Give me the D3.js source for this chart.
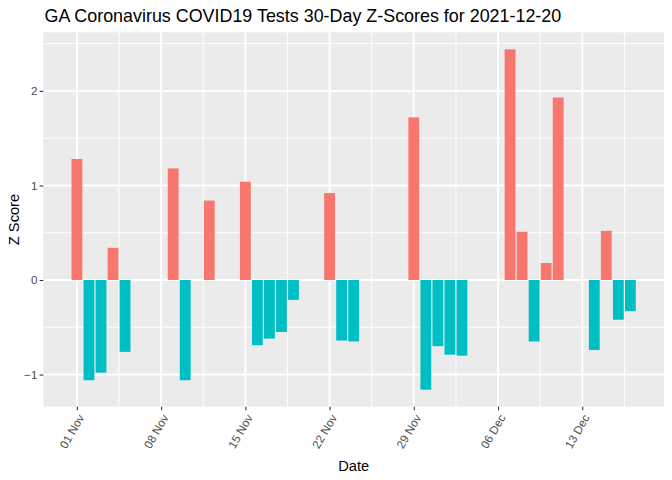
<!DOCTYPE html>
<html>
<head>
<meta charset="utf-8">
<script src="https://cdn.jsdelivr.net/npm/d3@7"></script>
<style>
  html, body { margin: 0; padding: 0; background: #ffffff; }
  svg { display: block; font-family: "Liberation Sans", Arial, sans-serif; }
</style>
</head>
<body>
<svg id="chart" width="672" height="480"></svg>
<script>
// ---- data ----
const dates = ["2021-11-01","2021-11-02","2021-11-03","2021-11-04","2021-11-05",
  "2021-11-09","2021-11-10","2021-11-12","2021-11-15","2021-11-16","2021-11-17",
  "2021-11-18","2021-11-19","2021-11-22","2021-11-23","2021-11-24","2021-11-29",
  "2021-11-30","2021-12-01","2021-12-02","2021-12-03","2021-12-07","2021-12-08",
  "2021-12-09","2021-12-10","2021-12-11","2021-12-14","2021-12-15","2021-12-16",
  "2021-12-17"];
const zScores = [1.28,-1.06,-0.98,0.34,-0.76,
  1.18,-1.06,0.84,1.04,-0.69,-0.62,
  -0.55,-0.21,0.92,-0.64,-0.65,1.72,
  -1.16,-0.70,-0.79,-0.80,2.44,0.51,
  -0.65,0.18,1.93,-0.74,0.52,-0.42,
  -0.33];
const xTickDates = ["2021-11-01","2021-11-08","2021-11-15","2021-11-22","2021-11-29","2021-12-06","2021-12-13"];
const xTickLabels = ["01 Nov","08 Nov","15 Nov","22 Nov","29 Nov","06 Dec","13 Dec"];
const yTicks = [-1, 0, 1, 2];
const yMinorTicks = [-0.5, 0.5, 1.5, 2.5];
const fillColors = { pos: "#F8766D", neg: "#00BFC4" };
const titleText = "GA Coronavirus COVID19 Tests 30-Day Z-Scores for 2021-12-20";

// ---- layout ----
const W = 672, H = 480;
const panel = { left: 43.3, right: 664, top: 32.3, bottom: 406.7 };
const DAY = 86400000;
const parse = d3.utcParse("%Y-%m-%d");
const data = dates.map((d, i) => ({ date: parse(d), value: zScores[i] }));

const svg = d3.select("#chart");

// x scale (ggplot: bar width 0.9 day, 5% expansion)
const xMin = d3.min(data, d => +d.date) - 0.45 * DAY;
const xMax = d3.max(data, d => +d.date) + 0.45 * DAY;
const xPad = (xMax - xMin) * 0.05;
const x = d3.scaleUtc().domain([new Date(xMin - xPad), new Date(xMax + xPad)])
  .range([panel.left, panel.right]);

const yLo = d3.min(data, d => d.value), yHi = d3.max(data, d => d.value);
const yPad = (yHi - yLo) * 0.05;
const y = d3.scaleLinear().domain([yLo - yPad, yHi + yPad]).range([panel.bottom, panel.top]);

// panel background
svg.append("rect").attr("x", panel.left).attr("y", panel.top)
  .attr("width", panel.right - panel.left).attr("height", panel.bottom - panel.top)
  .attr("fill", "#EBEBEB");

const g = svg.append("g");
// minor x gridlines (midpoints between major)
const majorX = xTickDates.map(parse);
const minorX = [];
for (let i = -1; i < majorX.length; i++) {
  const base = i < 0 ? +majorX[0] - 7 * DAY : +majorX[i];
  const m = new Date(base + 3.5 * DAY);
  const px = x(m);
  if (px > panel.left && px < panel.right) minorX.push(m);
}
g.selectAll(".xminor").data(minorX).enter().append("line")
  .attr("x1", d => x(d)).attr("x2", d => x(d))
  .attr("y1", panel.top).attr("y2", panel.bottom)
  .attr("stroke", "#fff").attr("stroke-width", 0.95);
g.selectAll(".yminor").data(yMinorTicks.filter(v => y(v) > panel.top && y(v) < panel.bottom)).enter().append("line")
  .attr("x1", panel.left).attr("x2", panel.right)
  .attr("y1", d => y(d)).attr("y2", d => y(d))
  .attr("stroke", "#fff").attr("stroke-width", 0.95);
g.selectAll(".xmajor").data(majorX).enter().append("line")
  .attr("x1", d => x(d)).attr("x2", d => x(d))
  .attr("y1", panel.top).attr("y2", panel.bottom)
  .attr("stroke", "#fff").attr("stroke-width", 1.9);
g.selectAll(".ymajor").data(yTicks).enter().append("line")
  .attr("x1", panel.left).attr("x2", panel.right)
  .attr("y1", d => y(d)).attr("y2", d => y(d))
  .attr("stroke", "#fff").attr("stroke-width", 1.9);

// bars
const bw = x(new Date(0.9 * DAY)) - x(new Date(0));
svg.append("g").selectAll("rect").data(data).enter().append("rect")
  .attr("x", d => x(d.date) - bw / 2)
  .attr("width", bw)
  .attr("y", d => y(Math.max(0, d.value)))
  .attr("height", d => Math.abs(y(d.value) - y(0)))
  .attr("fill", d => d.value > 0 ? fillColors.pos : fillColors.neg);

// x axis
const xAxis = d3.axisBottom(x).tickValues(majorX)
  .tickFormat((d, i) => xTickLabels[i]).tickSize(3.67).tickPadding(0);
const xa = svg.append("g").attr("transform", `translate(0,${panel.bottom})`).call(xAxis);
xa.select(".domain").remove();
xa.selectAll(".tick line").attr("stroke", "#333333").attr("stroke-width", 1.07);
xa.selectAll(".tick text")
  .attr("fill", "#4D4D4D").attr("font-size", "11.7px")
  .attr("font-family", "Liberation Sans, Arial, sans-serif")
  .attr("text-anchor", "end")
  .attr("y", 0).attr("x", 0).attr("dy", "0.72em")
  .attr("transform", "translate(0,6.5) rotate(-60)");

// y axis
const yAxis = d3.axisLeft(y).tickValues(yTicks).tickFormat(d3.format("d"))
  .tickSize(3.67).tickPadding(2.2);
const ya = svg.append("g").attr("transform", `translate(${panel.left},0)`).call(yAxis);
ya.select(".domain").remove();
ya.selectAll(".tick line").attr("stroke", "#333333").attr("stroke-width", 1.07);
ya.selectAll(".tick text").attr("fill", "#4D4D4D").attr("font-size", "11.7px")
  .attr("font-family", "Liberation Sans, Arial, sans-serif");

// titles
svg.append("text").attr("x", 44.5).attr("y", 22)
  .attr("font-size", "17.9px").attr("fill", "#000").text(titleText);
svg.append("text").attr("x", (panel.left + panel.right) / 2).attr("y", 470.5)
  .attr("text-anchor", "middle").attr("font-size", "14.67px").attr("fill", "#000").text("Date");
svg.append("text")
  .attr("transform", `translate(19,${(panel.top + panel.bottom) / 2}) rotate(-90)`)
  .attr("text-anchor", "middle").attr("font-size", "14.67px").attr("fill", "#000").text("Z Score");
</script>
</body>
</html>
